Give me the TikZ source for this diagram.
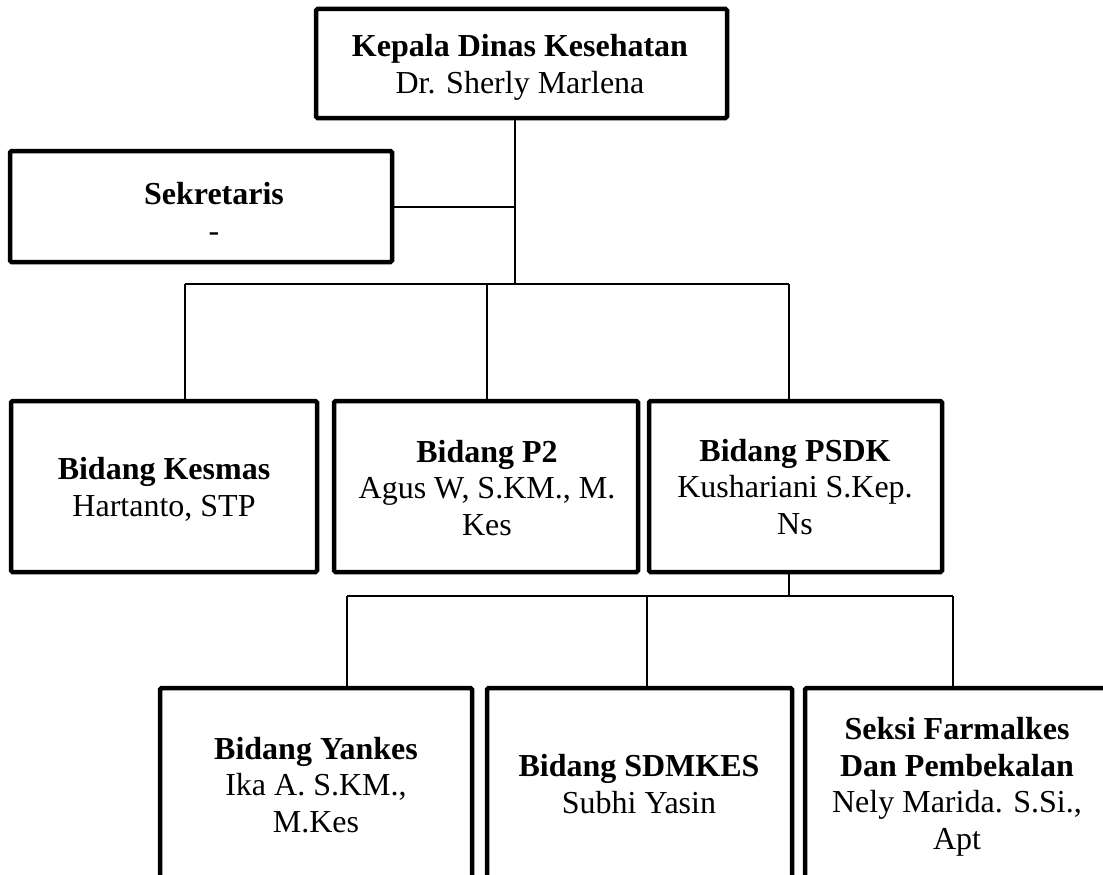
\documentclass[tikz,border=0pt]{standalone}
\usepackage{fontspec}
\setmainfont{Liberation Serif}
\begin{document}
\begin{tikzpicture}[x=1pt,y=-1pt,
  box/.style={draw=black,line width=4.5pt,rounded corners=1.5pt,inner sep=0pt,fill=white},
  txt/.style={align=center,inner sep=0pt,anchor=base,font=\fontsize{32}{36.5}\selectfont},
  conn/.style={draw=black,line width=2pt}]
\useasboundingbox (0,0) rectangle (1103,875);
\clip (0,0) rectangle (1103,875);
\fill[white] (0,0) rectangle (1103,875);
% boxes
\node[box,minimum width=411pt,minimum height=109pt] (kep) at (521.5,63.5) {};
\node[box,minimum width=382pt,minimum height=111pt] (sek) at (201,206.5) {};
\node[box,minimum width=306pt,minimum height=171pt] (kes) at (164,486.5) {};
\node[box,minimum width=304pt,minimum height=171pt] (ptwo) at (486,486.5) {};
\node[box,minimum width=293pt,minimum height=171pt] (psdk) at (795.5,486.5) {};
\node[box,minimum width=312pt,minimum height=212pt] (yan) at (316,794) {};
\node[box,minimum width=305pt,minimum height=212pt] (sdm) at (639.5,794) {};
\node[box,minimum width=310pt,minimum height=212pt] (farm) at (960,794) {};
% texts (anchor = baseline of last line)
\node[txt] (kept) at (520,93) {\textbf{Kepala Dinas Kesehatan}\\Dr. Sherly Marlena};
\node[txt] (sekt) at (214,241) {\textbf{Sekretaris}\\-};
\node[txt] (kest) at (164,516) {\textbf{Bidang Kesmas}\\Hartanto, STP};
\node[txt] (ptwot) at (487,535) {\textbf{Bidang P2}\\Agus W, S.KM., M.\\Kes};
\node[txt] (psdkt) at (795,534) {\textbf{Bidang PSDK}\\Kushariani S.Kep.\\Ns};
\node[txt] (yant) at (316,832) {\textbf{Bidang Yankes}\\Ika A. S.KM.,\\M.Kes};
\node[txt] (sdmt) at (639,813) {\textbf{Bidang SDMKES}\\Subhi Yasin};
\node[txt] (farmt) at (957,849) {\textbf{Seksi Farmalkes}\\\textbf{Dan Pembekalan}\\Nely Marida. S.Si.,\\Apt};
% junctions
\coordinate (ja) at (515,284);
\coordinate (jl) at (185,284);
\coordinate (jm) at (487,284);
\coordinate (jr) at (789,284);
\coordinate (jb) at (789,596);
\coordinate (kl) at (347,596);
\coordinate (km) at (647,596);
\coordinate (kr) at (953,596);
% connectors
\draw[conn] (kep.south -| ja) -- (ja);
\draw[conn] (sek.east) -- (sek.east -| ja);
\draw[conn] (jl) -- (jr);
\draw[conn] (jl) -- (kes.north -| jl);
\draw[conn] (jm) -- (ptwo.north -| jm);
\draw[conn] (jr) -- (psdk.north -| jr);
\draw[conn] (psdk.south -| jb) -- (jb);
\draw[conn] (kl) -- (kr);
\draw[conn] (kl) -- (yan.north -| kl);
\draw[conn] (km) -- (sdm.north -| km);
\draw[conn] (kr) -- (farm.north -| kr);
\end{tikzpicture}
\end{document}
